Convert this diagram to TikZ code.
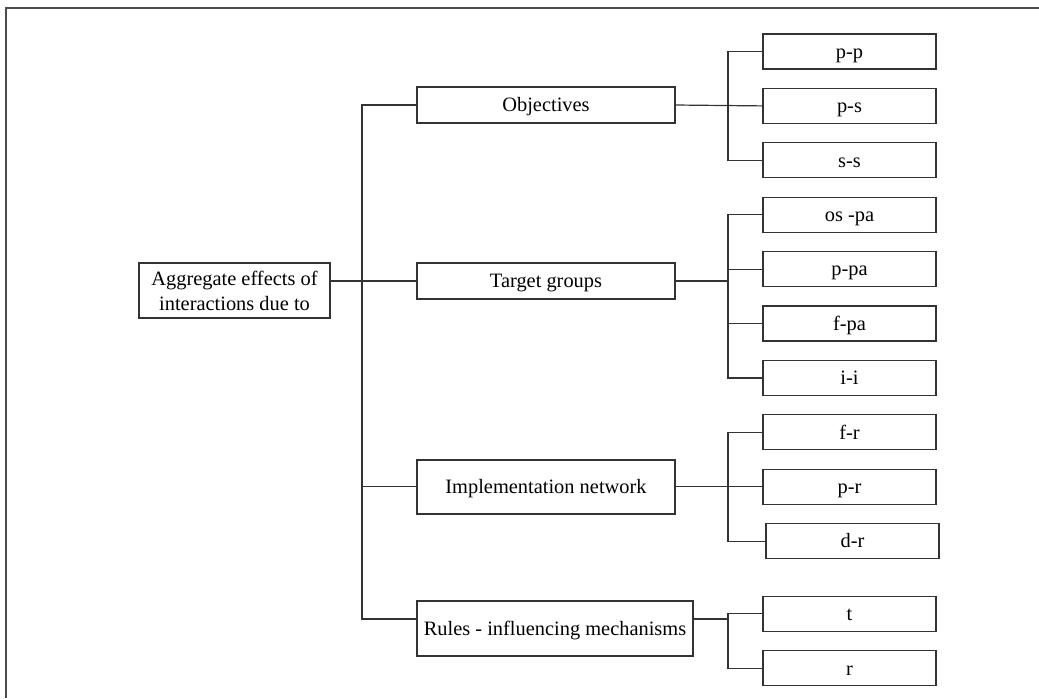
\documentclass[tikz,border=0pt]{standalone}
\usepackage{fontspec}
\setmainfont{Liberation Serif}
\usetikzlibrary{positioning}

\begin{document}
\begin{tikzpicture}[x=0.5pt,y=-0.5pt,node distance=9.1pt,
                    every node/.style={font=\fontsize{10.2}{12.5}\selectfont}]
  \tikzstyle{box}=[draw=black!80,line width=0.6pt,inner sep=0pt]
  \tikzstyle{leaf}=[box,text height=8.4pt,text depth=1.6pt,minimum width=86.5pt,minimum height=17.5pt]
  \tikzstyle{mid}=[box,text height=8.4pt,text depth=1.6pt,minimum width=129pt,minimum height=18pt]
  \tikzstyle{link}=[draw=black!80,line width=0.6pt]

  \useasboundingbox (0,0) rectangle (1039,698);
  \draw[black!70,line width=1pt] (6,698) -- (6,8) -- (1039,8);

  \node[box,align=center,minimum width=95.5pt,minimum height=27.5pt] (root) at (234.5,290.5) {Aggregate effects of\\interactions due to};
  \node[mid] (obj) at (546,105) {Objectives};
  \node[mid] (tg) at (546,281) {Target groups};
  \node[mid,minimum height=27pt] (impl) at (546,487) {Implementation network};
  \node[mid,minimum width=138pt,minimum height=27.5pt] (rules) at (555,628.5) {Rules - influencing mechanisms};

  \node[leaf] (pp) at (849.5,51.5) {p-p};
  \node[leaf] (ps) [below=of pp] {p-s};
  \node[leaf] (ss) [below=of ps] {s-s};
  \node[leaf] (ospa) [below=of ss] {os -pa};
  \node[leaf] (ppa) [below=of ospa] {p-pa};
  \node[leaf] (fpa) [below=of ppa] {f-pa};
  \node[leaf] (ii) [below=of fpa] {i-i};
  \node[leaf] (fr) [below=of ii] {f-r};
  \node[leaf] (pr) [below=of fr] {p-r};
  \node[leaf] (dr) [below=of pr, xshift=1.5pt] {d-r};
  \node[leaf] (t) [below=18.25pt of dr, xshift=-1.5pt] {t};
  \node[leaf] (r) [below=of t] {r};

  \coordinate (tk) at (362,619);
  \coordinate (ka) at (728,0);

  \draw[link] (root.east |- tg.west) -- (tg.west);
  \draw[link] (obj.west) -| (tk) -- (tk -| rules.west);
  \draw[link] (tk |- pr.west) -- (impl.west |- pr.west);

  \draw[link] (obj.east) -- (ps.west);
  \draw[link] (pp.west) -| (ka |- ss.west) -- (ss.west);
  \draw[link] (tg.east) -- (ka |- tg.east);
  \draw[link] (ospa.west) -| (ka |- ii.west) -- (ii.west);
  \foreach \n in {ppa,fpa}
    \draw[link] (ka |- \n.west) -- (\n.west);
  \draw[link] (impl.east |- pr.west) -- (pr.west);
  \draw[link] (fr.west) -| (ka |- dr.west) -- (dr.west);
  \draw[link] (rules.east |- tk) -- (ka |- tk);
  \draw[link] (t.west) -| (ka |- r.west) -- (r.west);
\end{tikzpicture}
\end{document}
